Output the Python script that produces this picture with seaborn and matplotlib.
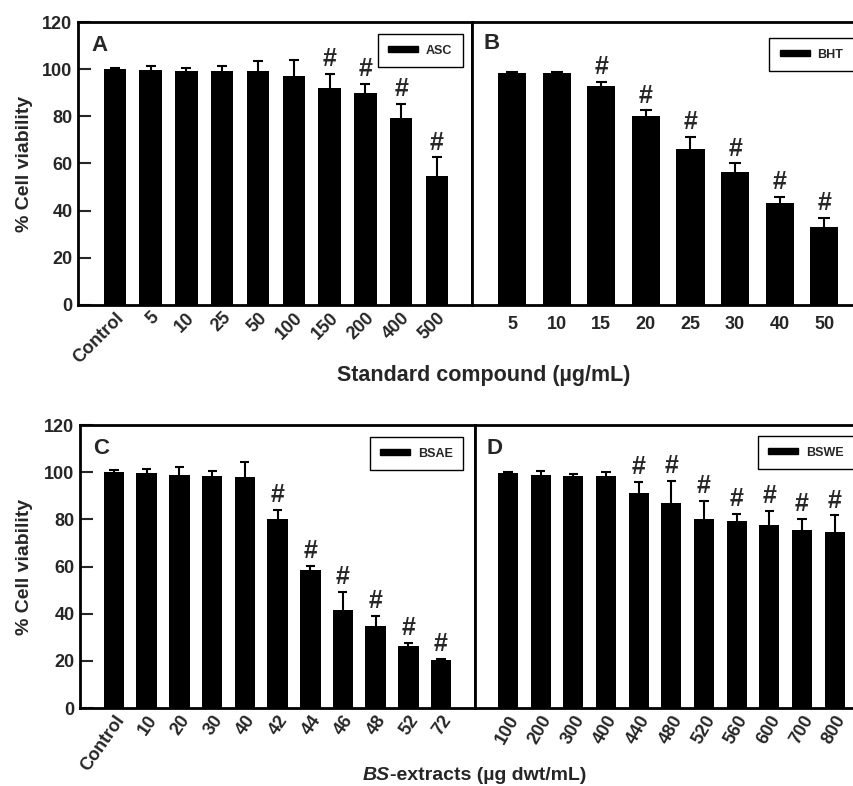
import matplotlib
matplotlib.use("Agg")
import matplotlib.pyplot as plt
from matplotlib.patches import Patch
import seaborn as sns
import pandas as pd

# panel A - ascorbic acid
asc_labels = ['Control', '5', '10', '25', '50', '100', '150', '200', '400', '500']
asc_mean = [100, 99.7, 99.2, 99.3, 99.2, 97, 92.1, 90, 79.5, 54.8]
asc_err = [0.3, 1.8, 1.1, 2.2, 4.2, 6.8, 5.8, 3.8, 5.7, 7.8]
asc_sig = [False, False, False, False, False, False, True, True, True, True]

# panel B - BHT
bht_labels = ['5', '10', '15', '20', '25', '30', '40', '50']
bht_mean = [98.2, 98.5, 92.9, 80.1, 66.2, 56.4, 43.2, 32.9]
bht_err = [0.4, 0.5, 1.7, 2.4, 5.1, 3.6, 2.6, 4.1]
bht_sig = [False, False, True, True, True, True, True, True]

# panel C - BSAE
bsae_labels = ['Control', '10', '20', '30', '40', '42', '44', '46', '48', '52', '72']
bsae_mean = [100, 99.6, 99, 98.4, 98, 80.3, 58.4, 41.5, 34.6, 26.3, 20.2]
bsae_err = [1.0, 1.7, 3.4, 2.3, 6.2, 3.8, 1.9, 7.7, 4.6, 1.3, 0.5]
bsae_sig = [False, False, False, False, False, True, True, True, True, True, True]

# panel D - BSWE
bswe_labels = ['100', '200', '300', '400', '440', '480', '520', '560', '600', '700', '800']
bswe_mean = [99.6, 98.7, 98.3, 98.3, 91.1, 87.1, 80, 79.3, 77.5, 75.5, 74.5]
bswe_err = [0.3, 2.0, 1.0, 1.6, 4.9, 9.1, 8.0, 2.9, 6.1, 4.7, 7.2]
bswe_sig = [False, False, False, False, True, True, True, True, True, True, True]

sns.set_style("white")
plt.rcParams['font.family'] = ['Liberation Sans', 'DejaVu Sans']
plt.rcParams['font.weight'] = 'bold'

fig = plt.figure(figsize=(8.54, 7.86), dpi=100)

ax_a = fig.add_axes([0.0913, 0.612, 0.4614, 0.360])
ax_b = fig.add_axes([0.5527, 0.612, 0.4506, 0.360])
ax_c = fig.add_axes([0.0937, 0.0992, 0.4625, 0.360])
ax_d = fig.add_axes([0.5562, 0.0992, 0.4471, 0.360])


def draw_panel(ax, labels, mean, err, sig, letter, name, xlim, rot, leg_anchor,
               letter_pos, ylab_x=None, width=0.63, cap=0.14):
    df = pd.DataFrame({'conc': labels, 'viability': mean})
    sns.barplot(data=df, x='conc', y='viability', color='black', width=width,
                saturation=1, ax=ax, errorbar=None, linewidth=0)
    x = list(range(len(labels)))
    tops = [m + e for m, e in zip(mean, err)]
    ax.vlines(x, mean, tops, color='black', lw=1.5)
    ax.hlines(tops, [xi - cap for xi in x], [xi + cap for xi in x],
              color='black', lw=1.5)
    for xi, t, s in zip(x, tops, sig):
        if s:
            ax.text(xi, t + 1.2, '#', ha='center', va='bottom',
                    fontsize=18, fontweight='bold')
    ax.set_ylim(0, 120)
    ax.set_xlim(*xlim)
    ax.set_xlabel('')
    ax.set_ylabel('')
    for sp in ax.spines.values():
        sp.set_linewidth(2)
        sp.set_color('black')
    if ylab_x is not None:
        ax.set_yticks([0, 20, 40, 60, 80, 100, 120])
        ax.tick_params(axis='y', direction='in', length=9, width=1.5,
                       labelsize=13, pad=4, left=True)
        for t in ax.get_yticklabels():
            t.set_fontweight('bold')
        ax.set_ylabel('% Cell viability', fontsize=14, fontweight='bold')
        ax.yaxis.set_label_coords(ylab_x, 0.5)
    else:
        ax.set_yticks([])
    ax.tick_params(axis='x', length=0, labelsize=13, pad=3)
    ax.set_xticks(x)
    if rot:
        ax.set_xticklabels(labels, rotation=rot, ha='right',
                           rotation_mode='anchor', fontweight='bold')
    else:
        ax.set_xticklabels(labels, fontweight='bold')
        ax.tick_params(axis='x', pad=8)
    ax.text(letter_pos[0], letter_pos[1], letter, transform=ax.transAxes,
            fontsize=16, fontweight='bold', ha='left', va='top')
    handle = Patch(facecolor='black', edgecolor='black', label=name)
    leg = ax.legend(handles=[handle], loc='upper right', bbox_to_anchor=leg_anchor,
                    fancybox=False, edgecolor='black', framealpha=1,
                    handlelength=2.4, handleheight=0.4, borderpad=0.85,
                    handletextpad=0.6, borderaxespad=0,
                    prop={'size': 9, 'weight': 'bold'})
    leg.get_frame().set_linewidth(1.0)


draw_panel(ax_a, asc_labels, asc_mean, asc_err, asc_sig, 'A', 'ASC',
           (-1.03, 9.98), 45, (0.977, 0.958), (0.035, 0.955), ylab_x=-0.114)
draw_panel(ax_b, bht_labels, bht_mean, bht_err, bht_sig, 'B', 'BHT',
           (-0.9, 7.73), 0, (0.993, 0.943), (0.029, 0.96), cap=0.13)
draw_panel(ax_c, bsae_labels, bsae_mean, bsae_err, bsae_sig, 'C', 'BSAE',
           (-1.04, 11.04), 55, (0.97, 0.958), (0.033, 0.954), ylab_x=-0.119)
draw_panel(ax_d, bswe_labels, bswe_mean, bswe_err, bswe_sig, 'D', 'BSWE',
           (-1.01, 10.68), 60, (0.993, 0.961), (0.031, 0.954), width=0.61)

fig.text(483.5 / 854, 1 - 375 / 786, 'Standard compound (\u00b5g/mL)',
         ha='center', va='center', fontsize=15.5, fontweight='bold')
fig.text(390 / 854, 1 - 775 / 786, 'BS', ha='right', va='center',
         fontsize=14, fontweight='bold', style='italic')
fig.text(390 / 854, 1 - 775 / 786, '-extracts (\u00b5g dwt/mL)', ha='left',
         va='center', fontsize=14, fontweight='bold')

fig.savefig('out.png', dpi=100)
